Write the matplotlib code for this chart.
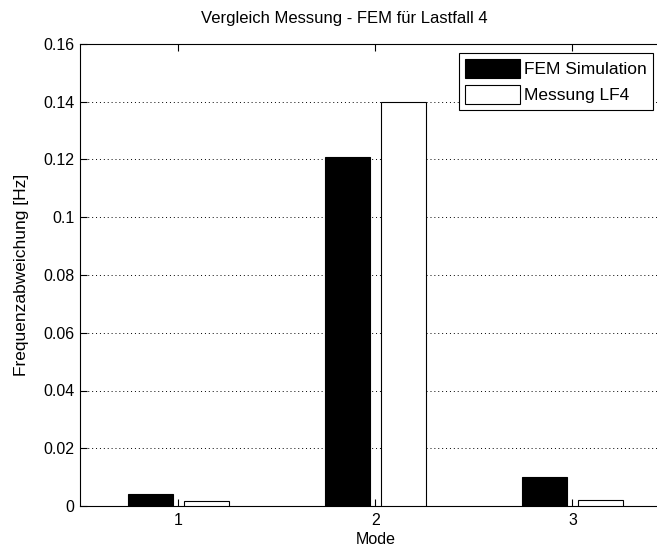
import numpy as np
import matplotlib
matplotlib.use("Agg")
import matplotlib.pyplot as plt
from matplotlib.ticker import FuncFormatter

# Werte
modes = [1, 2, 3]
fem_sim = [0.0042, 0.121, 0.0102]
messung_lf4 = [0.0018, 0.140, 0.0022]
yticks = [0, 0.02, 0.04, 0.06, 0.08, 0.1, 0.12, 0.14, 0.16]

plt.rcParams['font.family'] = ['Liberation Sans', 'DejaVu Sans']
plt.rcParams['font.size'] = 11

fig = plt.figure(figsize=(6.57, 5.52), dpi=100)
ax = fig.add_axes([80 / 657, 1 - 506 / 552, 591 / 657, 462 / 552])

x = np.array(modes, dtype=float)
gw = 2 / 3.5
off = gw / 4
bw = gw / 2 * 0.8
ax.bar(x - off, fem_sim, bw, color='black', edgecolor='black', linewidth=0.8,
       label='FEM Simulation', zorder=3)
ax.bar(x + off, messung_lf4, bw, color='white', edgecolor='black', linewidth=0.8,
       label='Messung LF4', zorder=3)

ax.set_xlim(0.5, 3.5)
ax.set_ylim(0, 0.16)
ax.set_xticks(modes)
ax.set_yticks(yticks)
ax.yaxis.set_major_formatter(FuncFormatter(lambda v, p: '%g' % v))
ax.tick_params(direction='in', length=5, width=0.8, top=True, right=False,
               labelsize=11.5, colors='black')
ax.tick_params(axis='x', pad=5)
ax.tick_params(axis='y', pad=4)
for s in ax.spines.values():
    s.set_linewidth(0.8)
ax.spines['right'].set_visible(False)

ax.yaxis.grid(True, linestyle=(0, (1, 3)), color='black', linewidth=0.7)
ax.set_axisbelow(True)

# Titel sitzt im Original links von der Achsenmitte
fig.text(344 / 657, 1 - 18 / 552, 'Vergleich Messung - FEM für Lastfall 4',
         fontsize=12, ha='center', va='center')
ax.set_xlabel('Mode', fontsize=11.5, labelpad=3)
ax.set_ylabel('Frequenzabweichung [Hz]', fontsize=12.5, labelpad=10)

leg = ax.legend(loc='upper right', bbox_to_anchor=(653 / 657, 1 - 53 / 552),
                bbox_transform=fig.transFigure, fancybox=False, framealpha=1,
                edgecolor='black', fontsize=12.5, handlelength=3.15,
                handleheight=1.3, handletextpad=0.25, borderpad=0.35,
                labelspacing=0.4, borderaxespad=0)
leg.get_frame().set_linewidth(0.8)

fig.savefig('out.png', dpi=100)
